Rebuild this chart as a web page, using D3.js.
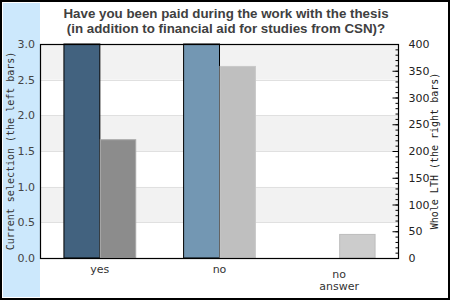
<!DOCTYPE html>
<html>
<head>
<meta charset="utf-8">
<script src="https://cdn.jsdelivr.net/npm/d3@7"></script>
<style>
  html, body { margin: 0; padding: 0; background: #fff; }
  svg { display: block; }
</style>
</head>
<body>
<script>
const categories = ["yes", "no", "no answer"];
const leftValues = [3.0, 3.0, 0];       // Current selection (the left bars)
const rightValues = [222, 359, 45];     // Whole LTH (the right bars)
const leftTicks = [0, 0.5, 1.0, 1.5, 2.0, 2.5, 3.0];
const rightTicks = [0, 50, 100, 150, 200, 250, 300, 350, 400];
const titleLines = ["Have you been paid during the work with the thesis",
                    "(in addition to financial aid for studies from CSN)?"];
const leftColors = ["#42627f", "#7397b3", "#9ab5cc"];
const rightColors = ["#8c8c8c", "#bfbfbf", "#cccccc"];
const rightStrokes = ["#a8a8a8", "#c8c8c8", "#bdbdbd"];

const W = 450, H = 300;
const plot = { left: 40, right: 399, top: 44, bottom: 258 };

const svg = d3.select("body").append("svg").attr("width", W).attr("height", H);

// background + left strip
svg.append("rect").attr("x", 0).attr("y", 0).attr("width", W).attr("height", H).attr("fill", "#fff");
svg.append("rect").attr("x", 3).attr("y", 3).attr("width", plot.left - 3).attr("height", H - 6).attr("fill", "#cce8fc");

const x = d3.scaleBand().domain(categories).range([plot.left, plot.right]).padding(0);
const yL = d3.scaleLinear().domain([0, 3]).range([plot.bottom, plot.top]);
const yR = d3.scaleLinear().domain([0, 400]).range([plot.bottom, plot.top]);

// alternating bands
const bands = d3.pairs(leftTicks);
svg.append("g").selectAll("rect").data(bands).join("rect")
  .attr("x", plot.left).attr("width", plot.right - plot.left)
  .attr("y", d => yL(d[1])).attr("height", d => yL(d[0]) - yL(d[1]))
  .attr("fill", (d, i) => i % 2 === 1 ? "#f2f2f2" : "#ffffff");
// grid lines
svg.append("g").selectAll("line").data(leftTicks.slice(1, -1)).join("line")
  .attr("x1", plot.left).attr("x2", plot.right)
  .attr("y1", d => Math.round(yL(d)) + 0.5).attr("y2", d => Math.round(yL(d)) + 0.5)
  .attr("stroke", "#e0e0e0").attr("stroke-width", 1);

const bw = x.bandwidth();
// left bars
svg.append("g").selectAll("rect").data(categories).join("rect")
  .filter((d, i) => leftValues[i] > 0)
  .attr("x", d => x(d) + bw * 0.2)
  .attr("width", bw * 0.3)
  .attr("y", d => yL(leftValues[categories.indexOf(d)]))
  .attr("height", d => plot.bottom - yL(leftValues[categories.indexOf(d)]))
  .attr("fill", d => leftColors[categories.indexOf(d)])
  .attr("stroke", "#000").attr("stroke-width", 1);
// right bars
svg.append("g").selectAll("rect").data(categories).join("rect")
  .attr("x", d => x(d) + bw * 0.5 + 0.5)
  .attr("width", bw * 0.3 - 0.5)
  .attr("y", (d, i) => yR(rightValues[i]) + 0.5)
  .attr("height", (d, i) => plot.bottom - yR(rightValues[i]) - 0.5)
  .attr("fill", (d, i) => rightColors[i])
  .attr("stroke", (d, i) => rightStrokes[i]).attr("stroke-width", 1);

// plot frame
svg.append("rect").attr("x", plot.left + 0.5).attr("y", plot.top + 0.5)
  .attr("width", plot.right - plot.left - 1).attr("height", plot.bottom - plot.top)
  .attr("fill", "none").attr("stroke", "#000").attr("stroke-width", 1.2);

const tickFont = "DejaVu Sans, sans-serif";

// left axis
const gL = svg.append("g").attr("transform", `translate(${plot.left},0)`)
  .call(d3.axisLeft(yL).tickValues(leftTicks).tickFormat(d3.format(".1f")).tickSize(0).tickPadding(5));
gL.select(".domain").remove();
gL.selectAll("text").attr("font-family", tickFont).attr("font-size", 11).attr("fill", "#444");

// right axis minor ticks
const gRm = svg.append("g").attr("transform", `translate(${plot.right - 0.5},0)`)
  .call(d3.axisRight(yR).ticks(40).tickSize(-3).tickFormat(""));
gRm.select(".domain").remove();
gRm.selectAll("line").attr("stroke", "#000");
// right axis major
const gR = svg.append("g").attr("transform", `translate(${plot.right - 0.5},0)`)
  .call(d3.axisRight(yR).tickValues(rightTicks).tickSize(-6).tickPadding(10));
gR.select(".domain").remove();
gR.selectAll("line").attr("stroke", "#000");
gR.selectAll("text").attr("font-family", tickFont).attr("font-size", 11).attr("fill", "#222");

// x labels
const gX = svg.append("g");
categories.forEach(c => {
  const words = c.split(" ");
  const t = gX.append("text")
    .attr("x", x(c) + bw / 2)
    .attr("y", words.length > 1 ? 278 : 273)
    .attr("text-anchor", "middle")
    .attr("font-family", tickFont).attr("font-size", 11).attr("fill", "#333");
  words.forEach((w, i) => {
    t.append("tspan").attr("x", x(c) + bw / 2).attr("dy", i === 0 ? 0 : 12).text(w);
  });
});

// title
svg.append("g").selectAll("text").data(titleLines).join("text")
  .attr("x", 226).attr("y", (d, i) => 18 + i * 14.5)
  .attr("text-anchor", "middle")
  .attr("font-family", "Liberation Sans, Arial, sans-serif")
  .attr("font-weight", "bold").attr("font-size", 13.33)
  .attr("fill", "#404040")
  .text(d => d);

// axis titles
const mono = "DejaVu Sans Mono, monospace";
svg.append("text").attr("transform", `translate(14,${(plot.top + plot.bottom) / 2}) rotate(-90)`)
  .attr("text-anchor", "middle").attr("font-family", mono).attr("font-size", 10).attr("fill", "#333")
  .text("Current selection (the left bars)");
svg.append("text").attr("transform", `translate(438,${(plot.top + plot.bottom) / 2}) rotate(-90)`)
  .attr("text-anchor", "middle").attr("font-family", mono).attr("font-size", 10).attr("fill", "#222")
  .text("Whole LTH (the right bars)");

// outer border
svg.append("rect").attr("x", 1).attr("y", 1).attr("width", W - 2).attr("height", H - 2)
  .attr("fill", "none").attr("stroke", "#000").attr("stroke-width", 2);
</script>
</body>
</html>
